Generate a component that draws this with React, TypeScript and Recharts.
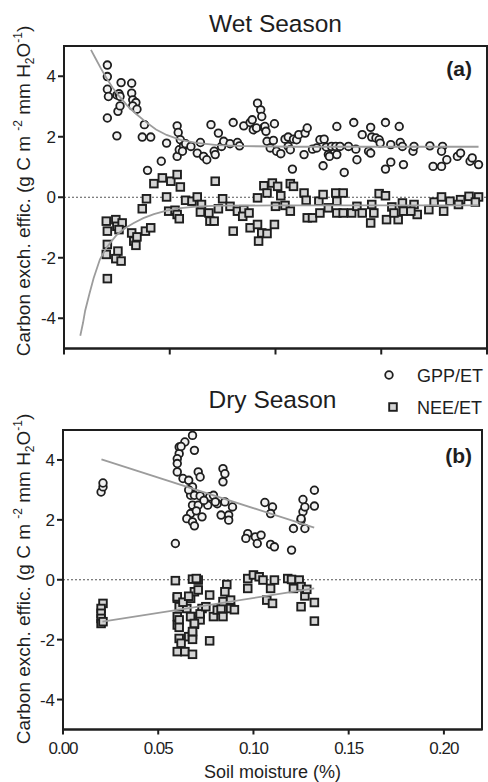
import React from 'react';
import { ScatterChart, Scatter, XAxis, YAxis, ReferenceLine, ReferenceArea } from 'recharts';

// Wet season: [soil moisture, efficiency]
const wetGpp: [number, number][] = [
  [0.041, 4.37], [0.041, 3.99], [0.041, 3.57], [0.042, 3.33], [0.041, 2.62], [0.05, 2.03], [0.05, 3.38],
  [0.052, 3.42], [0.054, 3.79], [0.053, 3.33], [0.051, 2.84], [0.053, 3.02], [0.064, 3.77], [0.064, 3.44],
  [0.065, 3.22], [0.068, 3.13], [0.065, 3.02], [0.069, 2.91], [0.076, 2.4], [0.074, 1.99], [0.082, 1.99],
  [0.079, 0.89], [0.092, 1.19], [0.097, 1.79], [0.107, 2.36], [0.108, 2.14], [0.11, 1.9], [0.107, 1.35],
  [0.109, 1.57], [0.113, 1.7], [0.112, 1.52], [0.115, 1.77], [0.12, 1.68], [0.126, 1.46], [0.129, 1.81],
  [0.132, 1.35], [0.135, 1.24], [0.139, 2.4], [0.142, 1.52], [0.143, 1.41], [0.146, 2.12], [0.149, 1.68],
  [0.151, 1.85], [0.16, 2.47], [0.157, 1.77], [0.164, 1.81], [0.166, 1.7], [0.17, 2.36], [0.176, 2.47],
  [0.178, 2.56], [0.179, 2.23], [0.182, 2.29], [0.183, 3.11], [0.186, 2.89], [0.187, 2.67], [0.189, 2.31],
  [0.19, 2.34], [0.191, 2.18], [0.192, 1.85], [0.195, 1.63], [0.199, 2.43], [0.198, 1.88], [0.201, 1.52],
  [0.205, 1.44], [0.209, 1.92], [0.212, 1.99], [0.212, 1.68], [0.214, 1.57], [0.216, 0.93], [0.217, 1.92],
  [0.22, 1.9], [0.222, 2.07], [0.227, 1.41], [0.228, 2.12], [0.23, 2.29], [0.235, 1.59], [0.239, 1.63],
  [0.242, 1.9], [0.245, 1.04], [0.246, 1.92], [0.248, 1.66], [0.25, 1.41], [0.251, 1.35], [0.253, 1.68],
  [0.258, 2.34], [0.257, 1.68], [0.258, 1.41], [0.261, 1.68], [0.265, 0.82], [0.269, 1.68], [0.274, 2.47],
  [0.276, 1.59], [0.277, 1.24], [0.282, 2.07], [0.288, 1.52], [0.29, 2.31], [0.29, 1.46], [0.291, 1.99],
  [0.295, 1.96], [0.298, 1.9], [0.299, 1.79], [0.304, 2.47], [0.304, 0.93], [0.309, 1.74], [0.309, 1.16],
  [0.317, 2.34], [0.318, 1.81], [0.32, 1.68], [0.321, 1.08], [0.33, 1.52], [0.331, 1.68], [0.346, 1.7],
  [0.349, 1.02], [0.357, 1.02], [0.358, 1.68], [0.357, 1.52], [0.362, 1.24], [0.372, 1.35], [0.375, 1.46],
  [0.384, 1.19], [0.386, 1.3], [0.392, 1.08],
];

const wetNee: [number, number][] = [
  [0.04, -0.79], [0.041, -1.12], [0.041, -1.56], [0.04, -1.89], [0.041, -2.69], [0.049, -0.74], [0.05, -0.96],
  [0.055, -0.85], [0.051, -1.78], [0.049, -2.03], [0.054, -2.11], [0.052, -1.07], [0.064, -1.18], [0.066, -1.45],
  [0.068, -1.59], [0.069, -1.31], [0.077, -1.12], [0.082, -1.01], [0.074, -0.38], [0.078, -0.05], [0.085, 0.45],
  [0.093, 0.64], [0.101, 0.53], [0.107, 0.75], [0.11, 0.34], [0.097, 0.01], [0.099, -0.46], [0.105, -0.43],
  [0.107, -0.57], [0.109, -0.71], [0.115, -0.1], [0.121, -0.13], [0.126, 0.01], [0.129, -0.49], [0.13, -0.24],
  [0.137, -0.52], [0.138, -0.79], [0.142, -0.79], [0.146, -0.38], [0.143, 0.53], [0.15, -0.05], [0.157, -0.3],
  [0.16, -1.12], [0.164, -0.46], [0.17, -0.41], [0.169, -0.63], [0.175, -0.52], [0.176, -1.01], [0.183, -0.9],
  [0.184, -1.45], [0.187, -1.18], [0.192, -1.2], [0.199, -0.9], [0.183, -0.02], [0.189, 0.38], [0.192, 0.14],
  [0.197, 0.47], [0.202, 0.36], [0.205, 0.05], [0.2, -0.3], [0.214, 0.45], [0.217, 0.36], [0.209, -0.27],
  [0.214, -0.46], [0.227, 0.14], [0.229, -0.1], [0.23, -0.68], [0.235, -0.68], [0.241, -0.13], [0.242, -0.52],
  [0.245, 0.09], [0.25, -0.35], [0.257, 0.14], [0.258, -0.52], [0.264, 0.14], [0.258, -0.13], [0.264, -0.52],
  [0.272, -0.52], [0.277, -0.3], [0.282, -0.52], [0.29, -0.85], [0.291, -0.24], [0.298, 0.12], [0.304, 0.05],
  [0.305, -0.74], [0.31, -0.32], [0.316, -0.74], [0.32, -0.19], [0.321, -0.46], [0.331, -0.24], [0.334, -0.57],
  [0.345, -0.41], [0.35, -0.16], [0.357, 0.01], [0.359, -0.46], [0.365, -0.13], [0.375, -0.08], [0.383, 0.03],
  [0.392, 0.01], [0.389, -0.16], [0.373, -0.24], [0.293, -0.52], [0.312, -0.52], [0.328, -0.46],
];

const wetGppFit: [number, number][] = [
  [0.0255, 4.87], [0.03, 4.58], [0.035, 4.25], [0.04, 3.95], [0.046, 3.62], [0.052, 3.35], [0.06, 3.02],
  [0.068, 2.76], [0.077, 2.5], [0.087, 2.24], [0.097, 2.06], [0.11, 1.9], [0.125, 1.8], [0.145, 1.72],
  [0.17, 1.69], [0.22, 1.67], [0.3, 1.67], [0.392, 1.67],
];

const wetNeeFit: [number, number][] = [
  [0.0154, -4.58], [0.018, -4.15], [0.02, -3.75], [0.024, -3.2], [0.028, -2.68], [0.034, -2.05], [0.04, -1.68],
  [0.045, -1.45], [0.05, -1.24], [0.058, -1.02], [0.066, -0.85], [0.075, -0.69], [0.085, -0.56], [0.097, -0.44],
  [0.11, -0.36], [0.125, -0.31], [0.145, -0.28], [0.2, -0.27], [0.392, -0.27],
];

// Dry season
const dryGpp: [number, number][] = [
  [0.02, 2.93], [0.021, 3.1], [0.021, 3.23], [0.059, 1.21], [0.068, 4.82], [0.064, 4.6], [0.061, 4.43],
  [0.061, 4.21], [0.06, 4.04], [0.06, 3.88], [0.069, 4.32], [0.06, 3.6], [0.063, 3.38], [0.066, 3.32],
  [0.071, 3.6], [0.072, 3.43], [0.068, 3.1], [0.067, 2.82], [0.069, 2.82], [0.072, 2.8], [0.068, 2.49],
  [0.071, 2.49], [0.067, 2.21], [0.065, 2.04], [0.068, 1.93], [0.069, 1.8], [0.073, 2.1], [0.077, 2.77],
  [0.079, 2.82], [0.076, 2.49], [0.081, 2.54], [0.084, 3.71], [0.085, 3.54], [0.084, 3.27], [0.085, 2.6],
  [0.089, 2.43], [0.083, 2.16], [0.087, 2.16], [0.087, 1.99], [0.106, 2.58], [0.11, 2.43], [0.109, 2.21],
  [0.097, 1.54], [0.096, 1.38], [0.101, 1.43], [0.104, 1.49], [0.102, 1.21], [0.109, 1.18], [0.111, 1.1],
  [0.12, 0.99], [0.121, 1.71], [0.125, 1.99], [0.127, 1.71], [0.126, 2.27], [0.127, 2.43], [0.132, 2.99],
  [0.132, 2.46], [0.125, 2.04], [0.126, 2.68], [0.062, 4.45], [0.066, 3.0], [0.07, 2.3], [0.074, 2.65],
  [0.08, 2.6],
];

const dryNee: [number, number][] = [
  [0.021, -0.79], [0.02, -0.96], [0.02, -1.12], [0.02, -1.29], [0.02, -1.46], [0.021, -1.4], [0.059, -0.03],
  [0.068, 0.02], [0.071, -0.01], [0.06, -0.62], [0.061, -0.9], [0.06, -1.23], [0.06, -1.51], [0.061, -1.96],
  [0.06, -2.4], [0.064, -2.4], [0.068, -2.49], [0.062, -2.12], [0.066, -1.9], [0.069, -1.49], [0.068, -1.84],
  [0.068, -1.23], [0.065, -0.96], [0.067, -0.62], [0.069, -0.4], [0.071, -0.34], [0.073, -0.96], [0.072, -1.34],
  [0.077, -0.51], [0.077, -2.04], [0.079, -1.23], [0.081, -1.01], [0.083, -0.96], [0.084, -1.23], [0.084, -0.73],
  [0.086, -0.16], [0.085, -0.4], [0.088, -0.68], [0.088, -0.96], [0.097, 0.04], [0.097, -0.29], [0.1, 0.16],
  [0.103, 0.1], [0.105, -0.01], [0.109, -0.29], [0.111, -0.01], [0.107, -0.68], [0.11, -0.79], [0.118, 0.04],
  [0.12, 0.01], [0.124, -0.01], [0.125, -0.23], [0.125, -0.9], [0.127, -0.54], [0.128, -0.32], [0.132, -0.76],
  [0.132, -1.38], [0.121, -0.29], [0.06, -0.57], [0.061, -1.34], [0.061, -1.59], [0.068, -1.99], [0.067, -1.23],
  [0.069, -1.46], [0.068, -1.73], [0.072, -1.14], [0.07, 0.04], [0.063, -0.75], [0.066, -0.55], [0.09, -1.0],
  [0.075, -0.9],
];

const dryGppFit: [number, number][] = [[0.0202, 4.02], [0.1319, 1.74]];
const dryNeeFit: [number, number][] = [[0.0207, -1.4], [0.1319, -0.29]];

const yTicks = [-4, -2, 0, 2, 4];
const wetXTicks = [0, 0.1, 0.2, 0.3, 0.4];
const dryXTicks = [0, 0.05, 0.1, 0.15, 0.2];

const FONT = '"Liberation Sans", Arial, sans-serif';
const INK = '#1e1e1e';
const FIT = '#9c9c9c';

const toPts = (arr: [number, number][]) => arr.map(([x, y]) => ({ x, y }));

const Circle = (p: any) => (
  <circle cx={p.cx} cy={p.cy} r={3.8} fill="#f2f2f2" stroke={INK} strokeWidth={1.8} />
);
const Square = (p: any) => (
  <rect x={p.cx - 3.8} y={p.cy - 3.8} width={7.6} height={7.6} fill="#d4d4d4" stroke={INK} strokeWidth={1.9} />
);
const NoDot = () => <g />;

const axisLine = { stroke: INK, strokeWidth: 2 };

const YLabel = ({ cy }: { cy: number }) => (
  <text transform={`translate(30, ${cy}) rotate(-90)`} textAnchor="middle" fontSize={19} fill={INK}>
    Carbon exch. effic. (g C m <tspan fontSize={12} dy={-8}>-2</tspan>
    <tspan dy={8}> mm H</tspan>
    <tspan fontSize={12} dy={4}>2</tspan>
    <tspan dy={-4}>O</tspan>
    <tspan fontSize={12} dy={-8}>-1</tspan>
    <tspan dy={8}>)</tspan>
  </text>
);

export default function App() {
  return (
    <div style={{ position: 'absolute', left: 0, top: 0, width: 488, height: 782, background: '#fff', fontFamily: FONT }}>
      <div style={{ position: 'absolute', left: 0, top: 0 }}>
        <ScatterChart width={488} height={375} margin={{ top: 46, right: 1, bottom: 16.5, left: 0 }}>
          <XAxis type="number" dataKey="x" domain={[0, 0.4]} ticks={wetXTicks} tickFormatter={() => ''}
            axisLine={axisLine} tickLine={axisLine} tickSize={6} height={10} allowDataOverflow />
          <YAxis type="number" dataKey="y" domain={[-5, 5]} ticks={yTicks} width={64} tickSize={6} tickMargin={2}
            axisLine={axisLine} tickLine={axisLine} tick={{ fontSize: 17, fill: INK, fontFamily: FONT }} allowDataOverflow />
          <ReferenceArea x1={0} x2={0.4} y1={-5} y2={5} fill="none" stroke={INK} strokeWidth={2} />
          <ReferenceLine y={0} stroke="#555" strokeDasharray="2 2" strokeWidth={1} />
          <Scatter data={toPts(wetGpp)} shape={Circle} isAnimationActive={false} />
          <Scatter data={toPts(wetNee)} shape={Square} isAnimationActive={false} />
          <Scatter data={toPts(wetGppFit)} shape={NoDot} line={{ stroke: FIT, strokeWidth: 1.8 }} lineType="joint" isAnimationActive={false} />
          <Scatter data={toPts(wetNeeFit)} shape={NoDot} line={{ stroke: FIT, strokeWidth: 1.8 }} lineType="joint" isAnimationActive={false} />
        </ScatterChart>
      </div>
      <div style={{ position: 'absolute', left: 0, top: 375 }}>
        <ScatterChart width={488} height={407} margin={{ top: 55, right: 6, bottom: 0.5, left: 0 }}>
          <XAxis type="number" dataKey="x" domain={[0, 0.22]} ticks={dryXTicks} tickFormatter={(v: number) => v.toFixed(2)}
            axisLine={axisLine} tickLine={axisLine} tickSize={5} tickMargin={7} height={52} allowDataOverflow
            tick={{ fontSize: 17, fill: INK, fontFamily: FONT, letterSpacing: -1 }}
            label={{ value: 'Soil moisture (%)', position: 'insideBottom', offset: 3.5, fontSize: 18, fill: INK, fontFamily: FONT }} />
          <YAxis type="number" dataKey="y" domain={[-5, 5]} ticks={yTicks} width={63} tickSize={6} tickMargin={2}
            axisLine={axisLine} tickLine={axisLine} tick={{ fontSize: 17, fill: INK, fontFamily: FONT }} allowDataOverflow />
          <ReferenceArea x1={0} x2={0.22} y1={-5} y2={5} fill="none" stroke={INK} strokeWidth={2} />
          <ReferenceLine y={0} stroke="#555" strokeDasharray="2 2" strokeWidth={1} />
          <Scatter data={toPts(dryGpp)} shape={Circle} isAnimationActive={false} />
          <Scatter data={toPts(dryNee)} shape={Square} isAnimationActive={false} />
          <Scatter data={toPts(dryGppFit)} shape={NoDot} line={{ stroke: FIT, strokeWidth: 1.8 }} lineType="joint" isAnimationActive={false} />
          <Scatter data={toPts(dryNeeFit)} shape={NoDot} line={{ stroke: FIT, strokeWidth: 1.8 }} lineType="joint" isAnimationActive={false} />
        </ScatterChart>
      </div>
      <svg width={488} height={782} style={{ position: 'absolute', left: 0, top: 0, pointerEvents: 'none' }} fontFamily={FONT}>
        <text x={275.5} y={32} textAnchor="middle" fontSize={24.5} fill={INK}>Wet Season</text>
        <text x={472} y={76} textAnchor="end" fontSize={21} fontWeight="bold" fill={INK}>(a)</text>
        <YLabel cy={191} />
        <text x={272.5} y={408} textAnchor="middle" fontSize={24.5} fill={INK}>Dry Season</text>
        <text x={472} y={463} textAnchor="end" fontSize={21} fontWeight="bold" fill={INK}>(b)</text>
        <YLabel cy={579} />
        <circle cx={389} cy={375} r={3.8} fill="#f2f2f2" stroke={INK} strokeWidth={1.8} />
        <text x={417} y={381.5} fontSize={18} fill={INK}>GPP/ET</text>
        <rect x={389.2} y={403.2} width={7.6} height={7.6} fill="#d4d4d4" stroke={INK} strokeWidth={1.9} />
        <text x={417} y={414} fontSize={18} fill={INK}>NEE/ET</text>
      </svg>
    </div>
  );
}
